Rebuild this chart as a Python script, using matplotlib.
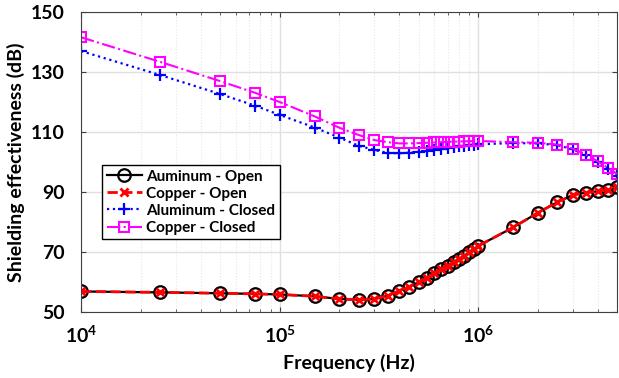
import matplotlib.pyplot as plt

# frequency points (Hz)
freq = [1e4, 2.5e4, 5e4, 7.5e4, 1e5, 1.5e5, 2e5, 2.5e5, 3e5, 3.5e5, 4e5,
        4.5e5, 5e5, 5.5e5, 6e5, 6.5e5, 7e5, 7.5e5, 8e5, 8.5e5, 9e5, 9.5e5,
        1e6, 1.5e6, 2e6, 2.5e6, 3e6, 3.5e6, 4e6, 4.5e6, 5e6]

# shielding effectiveness in dB
al_open = [56.8, 56.5, 56.2, 56.0, 55.8, 55.2, 54.3, 54.0, 54.3, 55.4, 57.0,
           58.4, 59.9, 61.4, 62.9, 64.2, 65.3, 66.6, 67.6, 68.7, 69.8, 70.9,
           72.0, 78.2, 83.1, 86.6, 89.0, 89.8, 90.2, 90.7, 91.6]
cu_open = [56.8, 56.5, 56.2, 56.0, 55.8, 55.2, 54.3, 54.0, 54.3, 55.4, 57.0,
           58.4, 59.9, 61.4, 62.9, 64.2, 65.3, 66.6, 67.6, 68.7, 69.8, 70.9,
           72.0, 78.2, 83.1, 86.6, 89.0, 89.8, 90.2, 90.7, 91.6]
al_closed = [137.0, 129.0, 122.7, 118.8, 115.7, 111.5, 108.1, 105.4, 104.0,
             103.0, 102.9, 103.1, 103.4, 103.7, 104.0, 104.3, 104.6, 104.9,
             105.2, 105.4, 105.6, 105.8, 105.9, 106.3, 106.2, 105.6, 104.2,
             102.2, 100.0, 97.8, 95.4]
cu_closed = [141.6, 133.4, 127.0, 123.1, 120.0, 115.2, 111.4, 109.0, 107.3,
             106.6, 106.2, 106.2, 106.3, 106.4, 106.5, 106.6, 106.7, 106.8,
             106.8, 106.9, 106.9, 107.0, 107.0, 106.6, 106.4, 105.8, 104.4,
             102.4, 100.2, 98.0, 96.0]

y_ticks = [50, 70, 90, 110, 130, 150]

plt.rcParams['font.family'] = ['Lato', 'DejaVu Sans']
plt.rcParams['font.weight'] = 'bold'
plt.rcParams['mathtext.default'] = 'regular'

fig = plt.figure(figsize=(6.19, 3.78), dpi=100)
ax = fig.add_axes([0.131, 0.175, 0.866, 0.793])

ax.plot(freq, al_open, '-', color='black', lw=1.6, marker='o', ms=9,
        mfc='none', mew=1.6, label='Auminum - Open')
ax.plot(freq, cu_open, '--', color='red', lw=2, marker='x', ms=6,
        mew=2, label='Copper - Open')
ax.plot(freq, al_closed, ':', color='blue', lw=1.6, marker='+', ms=9,
        mew=1.6, label='Aluminum - Closed')
ax.plot(freq, cu_closed, '-.', color='magenta', lw=1.5, marker='s', ms=7,
        mfc='none', mew=1.5, label='Copper - Closed')

ax.set_xscale('log')
ax.set_xlim(1e4, 5e6)
ax.set_ylim(50, 150)
ax.set_yticks(y_ticks)

ax.grid(True, which='major', color='#e0e0e0', lw=1)
ax.grid(True, which='minor', axis='x', color='#e6e6e6', ls=':', lw=0.8)
ax.set_axisbelow(True)
ax.tick_params(which='both', direction='in', top=True, right=True,
               colors='#404040', labelcolor='black', labelsize=14)
ax.tick_params(axis='x', which='major', pad=9)
ax.tick_params(axis='y', which='major', pad=12)
for s in ax.spines.values():
    s.set_color('#404040')

ax.set_xlabel('Frequency (Hz)', fontsize=14, fontweight='bold', labelpad=6)
ax.set_ylabel('Shielding effectiveness (dB)', fontsize=14, fontweight='bold',
              labelpad=4)

leg = ax.legend(loc='upper left', bbox_to_anchor=(0.025, 0.515), fontsize=11,
                fancybox=False, edgecolor='black', framealpha=1,
                handlelength=2.3, borderpad=0.3, labelspacing=0.2,
                handletextpad=0.3)
leg.get_frame().set_linewidth(1)

fig.savefig('out.png', dpi=100)
